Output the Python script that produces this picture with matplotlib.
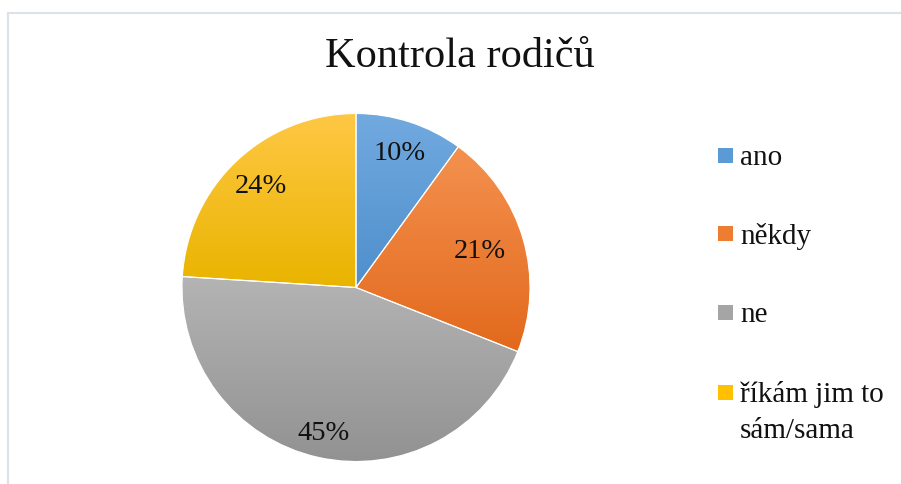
import numpy as np
import matplotlib
matplotlib.use("Agg")
import matplotlib.pyplot as plt
from matplotlib.colors import LinearSegmentedColormap
from matplotlib.patches import Rectangle

plt.rcParams['font.family'] = ['Liberation Serif', 'DejaVu Serif']

title = "Kontrola rodičů"
categories = ["ano", "někdy", "ne", "říkám jim to\nsám/sama"]
values = [10, 21, 45, 24]
# gradient top / bottom colours, like the Excel fill
top_colors = ["#72aae0", "#f4914f", "#b4b4b4", "#ffc845"]
bottom_colors = ["#4e8fcc", "#e2691c", "#929292", "#e9b400"]
legend_colors = ["#5b9bd5", "#ed7d31", "#a5a5a5", "#ffc000"]
# Excel's "best fit" label distances from the centre (fraction of radius)
label_dist = [0.81, 0.74, 0.86, 0.80]

W, H = 901, 484
fig = plt.figure(figsize=(W / 100, H / 100), dpi=100)

# light chart border (top and left edges visible)
fig.add_artist(Rectangle((7.5 / W, -0.1), 1.2, (H - 12.5) / H + 0.1,
                         transform=fig.transFigure, fill=False,
                         edgecolor="#dde2e8", linewidth=1.5))

# pie axes: centre (356, 287.5) px, radius 174 px
cx, cy, r = 356, 287.5, 174
ax = fig.add_axes([(cx - r) / W, (H - cy - r) / H, 2 * r / W, 2 * r / H])

wedges, texts, autotexts = ax.pie(values, startangle=90, counterclock=False,
                                  autopct="%1.0f%%", pctdistance=0.8,
                                  wedgeprops=dict(edgecolor="white", linewidth=0.8),
                                  textprops=dict(fontsize=20.5, color="#111111"))

for w, t, d in zip(wedges, autotexts, label_dist):
    ang = np.deg2rad((w.theta1 + w.theta2) / 2)
    t.set_position((d * np.cos(ang), d * np.sin(ang)))

grad = np.linspace(1, 0, 256).reshape(-1, 1)
for w, ctop, cbot in zip(wedges, top_colors, bottom_colors):
    ext = w.get_path().get_extents()
    cmap = LinearSegmentedColormap.from_list("g", [cbot, ctop])
    im = ax.imshow(grad, cmap=cmap, aspect="auto", origin="upper",
                   extent=[ext.x0, ext.x1, ext.y0, ext.y1], zorder=0.5)
    im.set_clip_path(w)
    w.set_facecolor("none")

ax.set_xlim(-1, 1)
ax.set_ylim(-1, 1)
ax.set_aspect("equal")
ax.axis("off")

fig.text(460 / W, (H - 57) / H, title, ha="center", va="center", fontsize=30.5, color="#111111")

# legend on the right
leg_y = [155, 233, 312, 392]
for name, col, y in zip(categories, legend_colors, leg_y):
    fig.add_artist(Rectangle((718 / W, (H - y - 7.5) / H), 15 / W, 15 / H,
                             transform=fig.transFigure, facecolor=col, edgecolor="none"))
    lines = name.split("\n")
    for k, line in enumerate(lines):
        fig.text(740 / W, (H - y - 36 * k) / H, line, ha="left", va="center_baseline",
                 fontsize=21, color="#111111")

fig.savefig("out.png", dpi=100)
